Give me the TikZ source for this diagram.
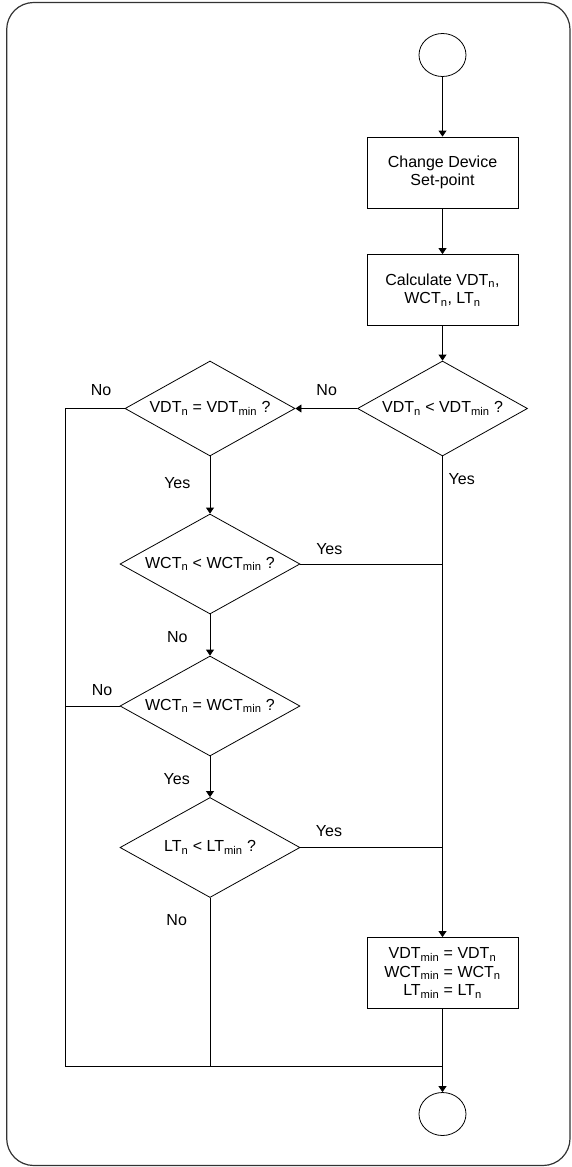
\documentclass[tikz,border=0pt]{standalone}
\usepackage{fontspec}
\setmainfont{Liberation Sans}
\usetikzlibrary{shapes.geometric,arrows.meta}
\newcommand{\lsub}[1]{\textsubscript{#1}}
\begin{document}
\begin{tikzpicture}[x=1pt,y=-1pt,
  every node/.style={font=\fontsize{16}{18.5}\selectfont},
  conn/.style={line width=0.8pt,draw=black},
  arr/.style={conn,-{Triangle[length=6pt,width=8pt]}},
  term/.style={draw,line width=0.8pt,ellipse,minimum width=47pt,minimum height=43pt,inner sep=0pt},
  procbox/.style={draw,line width=0.8pt,rectangle,minimum width=151pt,minimum height=71pt,align=center,inner sep=0pt},
  decA/.style={draw,line width=0.8pt,diamond,minimum width=170pt,minimum height=95pt,inner sep=0pt,aspect=1.79},
  decB/.style={draw,line width=0.8pt,diamond,minimum width=180pt,minimum height=100pt,inner sep=0pt,aspect=1.8},
  lbl/.style={inner sep=0pt}]
\useasboundingbox (0,0) rectangle (571,1167);
\draw[rounded corners=27pt,line width=1.2pt,draw=black!80] (6.7,2.5) rectangle (570,1165.5);

\node[term] (start) at (442.5,55) {};
\node[procbox] (b1) at (442.5,172.5) {Change Device\\Set-point};
\node[procbox] (b2) at (442.5,290) {Calculate VDT\lsub{n},\\WCT\lsub{n}, LT\lsub{n}};
\node[decA] (dA) at (442.5,408.5) {VDT\lsub{n} {<} VDT\lsub{min} ?};
\node[decA] (dB) at (210,408.5) {VDT\lsub{n} = VDT\lsub{min} ?};
\node[decB] (dC) at (210,564) {WCT\lsub{n} {<} WCT\lsub{min} ?};
\node[decB] (dD) at (210,706) {WCT\lsub{n} = WCT\lsub{min} ?};
\node[decB] (dE) at (210,847.5) {LT\lsub{n} {<} LT\lsub{min} ?};
\node[procbox] (b3) at (442.5,973) {VDT\lsub{min} = VDT\lsub{n}\\WCT\lsub{min} = WCT\lsub{n}\\LT\lsub{min} = LT\lsub{n}};
\node[term] (stop) at (442.5,1114) {};

\coordinate (lft) at (65.7,1066);
\coordinate (mrg) at (442.5,1066);

\draw[arr] (start) -- (b1);
\draw[arr] (b1) -- (b2);
\draw[arr] (b2) -- (dA);
\draw[arr] (dA.west) -- (dB.east);
\draw[arr] (dB) -- (dC);
\draw[arr] (dC) -- (dD);
\draw[arr] (dD) -- (dE);
\draw[arr] (dA.south) -- (b3.north);
\draw[conn] (dC.east) -- (dC.east -| dA.south);
\draw[conn] (dE.east) -- (dE.east -| dA.south);
\draw[conn] (dB.west) -- (dB.west -| lft) -- (lft) -- (mrg);
\draw[conn] (dD.west) -- (dD.west -| lft);
\draw[conn] (dE.south) -- (dE.south |- mrg);
\draw[arr] (b3) -- (stop);

\node[lbl] (l1) at (326.7,390) {No};
\node[lbl] (l2) at (101,390) {No};
\node[lbl] (l3) at (177.3,483) {Yes};
\node[lbl] (l4) at (461.7,479) {Yes};
\node[lbl] (l5) at (329.3,549) {Yes};
\node[lbl] (l6) at (177.3,637) {No};
\node[lbl] (l7) at (102,690) {No};
\node[lbl] (l8) at (176.7,779) {Yes};
\node[lbl] (l9) at (329,831) {Yes};
\node[lbl] (l10) at (176.7,920) {No};
\end{tikzpicture}
\end{document}
